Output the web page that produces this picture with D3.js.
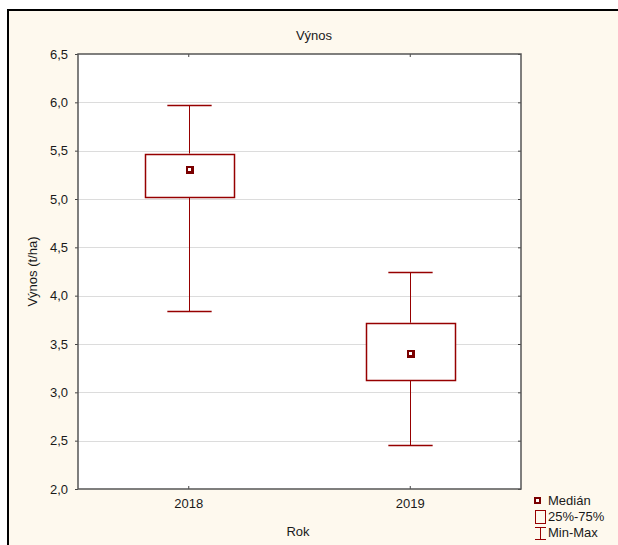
<!DOCTYPE html>
<html>
<head>
<meta charset="utf-8">
<script src="https://cdn.jsdelivr.net/npm/d3@7"></script>
<style>
  html, body { margin: 0; padding: 0; background: #ffffff; }
  svg { display: block; }
  text { font-family: "Liberation Sans", Arial, sans-serif; fill: #1a1a1a; }
</style>
</head>
<body>
<svg id="chart" width="618" height="545"></svg>
<script>
// ---- data ----
const categories = ["2018", "2019"];
const minValues    = [3.84, 2.45];
const q1Values     = [5.02, 3.13];
const medianValues = [5.30, 3.40];
const q3Values     = [5.47, 3.72];
const maxValues    = [5.97, 4.24];
const yTicks = [2.0, 2.5, 3.0, 3.5, 4.0, 4.5, 5.0, 5.5, 6.0, 6.5];
const legendLabels = ["Medián", "25%-75%", "Min-Max"];
const titleText = "Výnos";
const xLabel = "Rok";
const yLabel = "Výnos (t/ha)";

// ---- layout ----
const W = 618, H = 545;
const plot = { left: 78, top: 54, right: 521, bottom: 489 };
const boxColor = "#960000";
const FS = 13;
const fmt = v => d3.format(".1f")(v).replace(".", ",");

const svg = d3.select("#chart");

// outer cream frame (extends beyond window on right/bottom)
svg.append("rect").attr("x", 8).attr("y", 10).attr("width", W + 20).attr("height", H + 20)
  .attr("fill", "#fef9ee").attr("stroke", "#000").attr("stroke-width", 2);

const x = d3.scaleBand().domain(categories).range([plot.left, plot.right]).padding(0);
const y = d3.scaleLinear().domain([2.0, 6.5]).range([plot.bottom, plot.top]);

// plot background
svg.append("rect").attr("x", plot.left).attr("y", plot.top)
  .attr("width", plot.right - plot.left).attr("height", plot.bottom - plot.top)
  .attr("fill", "#ffffff");

// gridlines
svg.append("g").selectAll("line").data(yTicks.slice(1, -1)).join("line")
  .attr("x1", plot.left).attr("x2", plot.right)
  .attr("y1", d => Math.round(y(d)) + 0.5).attr("y2", d => Math.round(y(d)) + 0.5)
  .attr("stroke", "#dcdcdc").attr("stroke-width", 1);

// axes
const yAxis = d3.axisLeft(y).tickValues(yTicks).tickFormat(fmt).tickSize(3).tickPadding(7);
const gy = svg.append("g").attr("transform", `translate(${plot.left},0)`).call(yAxis);
gy.select(".domain").remove();
gy.selectAll(".tick line").attr("stroke", "#444");
gy.selectAll("text").attr("font-size", FS).style("fill", "#1a1a1a");

const xAxis = d3.axisBottom(x).tickSize(-3).tickPadding(10);
const gx = svg.append("g").attr("transform", `translate(0,${plot.bottom})`).call(xAxis);
gx.select(".domain").remove();
gx.selectAll(".tick line").attr("stroke", "#444");
gx.selectAll("text").attr("font-size", FS).style("fill", "#1a1a1a");

const xAxisTop = d3.axisTop(x).tickSize(-3).tickFormat("");
const gxt = svg.append("g").attr("transform", `translate(0,${plot.top})`).call(xAxisTop);
gxt.select(".domain").remove();
gxt.selectAll(".tick line").attr("stroke", "#444");

const yAxisR = d3.axisRight(y).tickValues(yTicks).tickSize(-3).tickFormat("");
const gyr = svg.append("g").attr("transform", `translate(${plot.right},0)`).call(yAxisR);
gyr.select(".domain").remove();
gyr.selectAll(".tick line").attr("stroke", "#444");

// plot border
svg.append("rect").attr("x", plot.left).attr("y", plot.top)
  .attr("width", plot.right - plot.left).attr("height", plot.bottom - plot.top)
  .attr("fill", "none").attr("stroke", "#555").attr("stroke-width", 1.5);

// boxes
const bw = x.bandwidth();
const boxW = bw * 0.4, capW = bw * 0.2;
const data = categories.map((c, i) => ({
  c, min: minValues[i], q1: q1Values[i], med: medianValues[i], q3: q3Values[i], max: maxValues[i]
}));
const g = svg.append("g").selectAll("g").data(data).join("g");
const cx = d => Math.round(x(d.c) + bw / 2) + 0.5;

g.append("line").attr("x1", cx).attr("x2", cx)
  .attr("y1", d => y(d.max)).attr("y2", d => y(d.q3))
  .attr("stroke", boxColor).attr("stroke-width", 1);
g.append("line").attr("x1", cx).attr("x2", cx)
  .attr("y1", d => y(d.q1)).attr("y2", d => y(d.min))
  .attr("stroke", boxColor).attr("stroke-width", 1);
g.append("line").attr("x1", d => cx(d) - capW / 2).attr("x2", d => cx(d) + capW / 2)
  .attr("y1", d => Math.round(y(d.max)) + 0.5).attr("y2", d => Math.round(y(d.max)) + 0.5)
  .attr("stroke", boxColor).attr("stroke-width", 1.5);
g.append("line").attr("x1", d => cx(d) - capW / 2).attr("x2", d => cx(d) + capW / 2)
  .attr("y1", d => Math.round(y(d.min)) + 0.5).attr("y2", d => Math.round(y(d.min)) + 0.5)
  .attr("stroke", boxColor).attr("stroke-width", 1.5);
g.append("rect")
  .attr("x", d => Math.round(cx(d) - boxW / 2) + 0.5)
  .attr("y", d => Math.round(y(d.q3)) + 0.5)
  .attr("width", Math.round(boxW))
  .attr("height", d => Math.round(y(d.q1)) - Math.round(y(d.q3)))
  .attr("fill", "#fff").attr("stroke", boxColor).attr("stroke-width", 1.5);
g.append("rect")
  .attr("x", d => Math.round(cx(d)) - 4).attr("y", d => Math.round(y(d.med)) - 4)
  .attr("width", 8).attr("height", 8).attr("fill", "#7a0000");
g.append("rect")
  .attr("x", d => Math.round(cx(d)) - 2).attr("y", d => Math.round(y(d.med)) - 2)
  .attr("width", 3).attr("height", 3).attr("fill", "#fff");

// titles
svg.append("text").attr("x", 314).attr("y", 40).attr("text-anchor", "middle")
  .attr("font-size", FS).text(titleText);
svg.append("text").attr("x", 298).attr("y", 536).attr("text-anchor", "middle")
  .attr("font-size", FS).text(xLabel);
svg.append("text").attr("transform", `translate(37,${(plot.top + plot.bottom) / 2}) rotate(-90)`)
  .attr("text-anchor", "middle").attr("font-size", FS).text(yLabel);

// legend
const lg = svg.append("g");
lg.append("rect").attr("x", 534).attr("y", 497).attr("width", 7).attr("height", 7).attr("fill", "#7a0000");
lg.append("rect").attr("x", 536).attr("y", 499).attr("width", 3).attr("height", 3).attr("fill", "#fff");
lg.append("rect").attr("x", 535.5).attr("y", 510.5).attr("width", 10).attr("height", 13)
  .attr("fill", "none").attr("stroke", boxColor).attr("stroke-width", 1);
lg.append("line").attr("x1", 540.5).attr("x2", 540.5).attr("y1", 527).attr("y2", 540)
  .attr("stroke", boxColor);
lg.append("line").attr("x1", 535).attr("x2", 546).attr("y1", 527.5).attr("y2", 527.5)
  .attr("stroke", boxColor);
lg.append("line").attr("x1", 535).attr("x2", 546).attr("y1", 539.5).attr("y2", 539.5)
  .attr("stroke", boxColor);
lg.selectAll("text").data(legendLabels).join("text")
  .attr("x", 548).attr("y", (d, i) => 505 + i * 16)
  .attr("font-size", FS).text(d => d);
</script>
</body>
</html>
